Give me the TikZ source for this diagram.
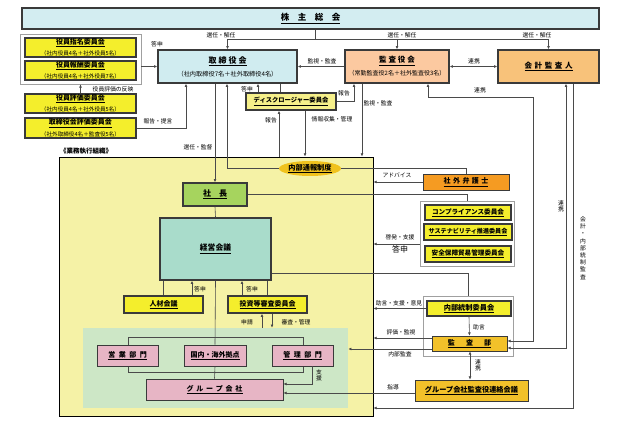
\documentclass[tikz,border=0pt]{standalone}
\usepackage{fontspec}
\setmainfont{Noto Sans CJK JP}
\usetikzlibrary{arrows.meta,shapes.geometric}
\definecolor{cKabu}{HTML}{D3EDF1}
\definecolor{cTori}{HTML}{D0ECF0}
\definecolor{cKansa}{HTML}{FCC9A0}
\definecolor{cKaikei}{HTML}{F8C27A}
\definecolor{cYel}{HTML}{F4EE2C}
\definecolor{cDisc}{HTML}{F6F08A}
\definecolor{cExec}{HTML}{F5F2A6}
\definecolor{cShacho}{HTML}{A6D45E}
\definecolor{cKeiei}{HTML}{A9DCCB}
\definecolor{cGreen}{HTML}{CDE7C6}
\definecolor{cPink}{HTML}{E7B5C5}
\definecolor{cNaibu}{HTML}{F0C21E}
\definecolor{cBengo}{HTML}{F59B22}
\definecolor{cKansabu}{HTML}{F2C12A}
\definecolor{cLine}{HTML}{4A4A4A}
\definecolor{cBorder}{HTML}{3A3A3A}
\definecolor{cGrey}{HTML}{A0A0A0}
\newcommand\myfs[1]{\fontsize{#1}{#1}\selectfont}
\newcommand\ttl[1]{\underline{{\bfseries #1}}}
\begin{document}
\begin{tikzpicture}[x=1pt,y=-1pt,
  ln/.style={draw=cLine,line width=0.6pt},
  arr/.style={ln,-{Latex[length=3.2pt,width=2.8pt]}},
  darr/.style={ln,{Latex[length=3.2pt,width=2.8pt]}-{Latex[length=3.2pt,width=2.8pt]}},
  lbl/.style={inner sep=0.5pt,font=\myfs{5.8}},
  thickbox/.style={draw=cBorder,line width=1.4pt,inner sep=0pt,align=center},
  thinbox/.style={draw=cBorder,line width=0.7pt,inner sep=0pt,align=center},
  ybox/.style={thickbox,fill=cYel},
  grpbox/.style={draw=cGrey,line width=0.7pt,fill=white,inner sep=0pt},
  pinkbox/.style={thinbox,fill=cPink,minimum width=61pt,minimum height=21pt,font=\myfs{7}}
]
\useasboundingbox (0,0) rectangle (624,427);
\fill[white] (0,0) rectangle (624,427);

% ---- top level ----
\node[thickbox,fill=cKabu,minimum width=577pt,minimum height=21pt] (kabu) at (310.5,18.5)
  {\myfs{8.5}\ttl{株\hspace{1em}主\hspace{1em}総\hspace{1em}会}};

\node[grpbox,minimum width=121pt,minimum height=50pt] (grpL) at (80.5,59) {};
\node[ybox,minimum width=111pt,minimum height=19pt] (shimei) at (80.5,47.5)
  {\myfs{7}\ttl{役員指名委員会}\\[-0.5pt]\myfs{5.6}（社内役員4名＋社外役員5名）};
\node[ybox,minimum width=111pt,minimum height=19pt] (hoshu) at (80.5,70.5)
  {\myfs{7}\ttl{役員報酬委員会}\\[-0.5pt]\myfs{5.6}（社内役員4名＋社外役員7名）};
\node[ybox,minimum width=111pt,minimum height=19pt] (hyoka) at (80.5,103.5)
  {\myfs{7}\ttl{役員評価委員会}\\[-0.5pt]\myfs{5.6}（社内役員4名＋社外役員5名）};
\node[ybox,minimum width=111pt,minimum height=20pt] (trhyoka) at (80.5,128)
  {\myfs{7}\ttl{取締役会評価委員会}\\[-0.5pt]\myfs{5.6}（社外取締役4名＋監査役5名）};

\node[thickbox,fill=cTori,minimum width=139pt,minimum height=33pt] (tori) at (227.5,66.5)
  {\myfs{8}\ttl{取\hspace{0.25em}締\hspace{0.25em}役\hspace{0.25em}会}\\[1pt]\myfs{6.2}（社内取締役7名＋社外取締役4名）};
\node[thickbox,fill=cKansa,minimum width=104pt,minimum height=33pt] (kansa) at (397,66.5)
  {\myfs{7.5}\ttl{監\hspace{0.25em}査\hspace{0.25em}役\hspace{0.25em}会}\\[1pt]\myfs{6}（常勤監査役2名＋社外監査役3名）};
\node[thickbox,fill=cKaikei,minimum width=101pt,minimum height=33pt] (kaikei) at (548.5,66.5)
  {\myfs{7.5}\ttl{会\hspace{0.35em}計\hspace{0.35em}監\hspace{0.35em}査\hspace{0.35em}人}};

\node[thickbox,fill=cDisc,minimum width=90pt,minimum height=17pt] (disc) at (291,101.5)
  {\myfs{6.3}\ttl{ディスクロージャー委員会}};

% ---- execution organisation ----
\node[draw=black,line width=0.8pt,fill=cExec,minimum width=314pt,minimum height=259pt,inner sep=0pt] (exec) at (216,286.5) {};
\node[inner sep=0pt,font=\myfs{6.5}\bfseries,anchor=west] (execlbl) at (60,151) {《業務執行組織》};

\node[ellipse,fill=cNaibu,minimum width=62pt,minimum height=15pt,inner sep=0pt] (naibu) at (310,168.5)
  {\myfs{7.2}\ttl{内部通報制度}};
\node[thinbox,fill=cBengo,minimum width=86pt,minimum height=16pt] (bengo) at (466,182)
  {\myfs{7}\ttl{社\hspace{0.35em}外\hspace{0.35em}弁\hspace{0.35em}護\hspace{0.35em}士}};

\node[thickbox,fill=cShacho,minimum width=64pt,minimum height=23pt] (shacho) at (215,194.5)
  {\myfs{8}\ttl{社\hspace{1em}長}};
\node[thickbox,fill=cKeiei,minimum width=111pt,minimum height=62pt] (keiei) at (215.5,249)
  {\myfs{7.8}\ttl{経営会議}};

\node[grpbox,minimum width=94pt,minimum height=65pt] (grpC) at (467,233.5) {};
\node[ybox,minimum width=86pt,minimum height=15pt] (comp) at (468,212.5)
  {\myfs{6.6}\ttl{コンプライアンス委員会}};
\node[ybox,minimum width=88pt,minimum height=16pt] (sust) at (468,232)
  {\myfs{6.1}\ttl{サステナビリティ推進委員会}};
\node[ybox,minimum width=86pt,minimum height=16pt] (anzen) at (468,254)
  {\myfs{6.6}\ttl{安全保障貿易管理委員会}};

\node[ybox,minimum width=79pt,minimum height=17pt] (jinzai) at (163.5,304.5)
  {\myfs{7}\ttl{人材会議}};
\node[ybox,minimum width=79pt,minimum height=17pt] (toshi) at (267.5,304.5)
  {\myfs{7}\ttl{投資等審査委員会}};

\node[fill=cGreen,minimum width=265pt,minimum height=80pt,inner sep=0pt] (green) at (215.5,368) {};
\node[ln,minimum width=175pt,minimum height=35pt,inner sep=0pt] (frame) at (215.5,354.5) {};
\node[pinkbox] (eigyo) at (127.5,355.5) {\ttl{営\hspace{0.5em}業\hspace{0.5em}部\hspace{0.5em}門}};
\node[pinkbox,minimum width=62pt] (kokunai) at (215,355.5) {\ttl{国内・海外拠点}};
\node[pinkbox] (kanri) at (302.5,355.5) {\ttl{管\hspace{0.5em}理\hspace{0.5em}部\hspace{0.5em}門}};
\node[pinkbox,minimum width=137pt] (group) at (214.5,389.5)
  {\ttl{グ\hspace{0.4em}ル\hspace{0.4em}ー\hspace{0.4em}プ\hspace{0.4em}会\hspace{0.4em}社}};

\node[grpbox,minimum width=90pt,minimum height=60pt] (grpI) at (468,326) {};
\node[ybox,minimum width=84pt,minimum height=15pt] (naitou) at (469,308.5)
  {\myfs{7.2}\ttl{内部統制委員会}};
\node[thinbox,fill=cKansabu,minimum width=75pt,minimum height=15pt] (kansabu) at (469.5,343.5)
  {\myfs{7}\ttl{監\hspace{1.6em}査\hspace{1.6em}部}};
\node[thinbox,fill=cKansabu,minimum width=113pt,minimum height=21pt] (gkaigi) at (471.5,390.5)
  {\myfs{7.2}\ttl{グループ会社監査役連絡会議}};

% ---- connectors: shareholders ----
\coordinate (sh) at (315,39);
\draw[ln] (kabu.south -| sh) -- (sh);
\draw[ln] (tori.north |- sh) -- (kaikei.north |- sh);
\draw[arr] (tori.north |- sh) -- (tori.north);
\draw[arr] (kansa.north |- sh) -- (kansa.north);
\draw[arr] (kaikei.north |- sh) -- (kaikei.north);
\node[lbl] (l1) at (221,35) {選任・解任};
\node[lbl] (l2) at (402,35) {選任・解任};
\node[lbl] (l3) at (537,35) {選任・解任};

% left committees
\draw[arr] (grpL.east |- tori.west) -- (tori.west);
\node[lbl] (l4) at (157,44) {答申};
\draw[arr] (hyoka.north) -- (grpL.south);
\node[lbl] (l5) at (113,89) {役員評価の反映};
\draw[arr] (trhyoka.east) -- (trhyoka.east -| 186,0) -- (tori.south -| 186,0);
\node[lbl] (l6) at (158,121) {報告・提言};

% board / auditors
\draw[arr] (kansa.west) -- (tori.east);
\node[lbl] (l7) at (322,61) {監視・監査};
\draw[darr] (kansa.east) -- (kaikei.west);
\node[lbl] (l8) at (474,61) {連携};

% disclosure committee
\draw[arr] (disc.north -| 258,0) -- (tori.south -| 258,0);
\node[lbl] (l9) at (247,89) {答申};
\draw[ln] (tori.south -| 280,0) -- (disc.north -| 280,0);
\draw[arr] (disc.east) -- (disc.east -| 354,0) -- (kansa.south -| 354,0);
\node[lbl] (l10) at (344,93) {報告};
\draw[arr] (exec.north -| 279,0) -- (disc.south -| 279,0);
\node[lbl] (l11) at (271,120) {報告};
\draw[arr] (disc.south -| 305,0) -- (exec.north -| 305,0);
\node[lbl] (l12) at (332,119) {情報収集・管理};
\draw[arr] (kansa.south -| 362,0) -- (exec.north -| 362,0);
\node[lbl] (l13) at (378,103) {監視・監査};

% board -> president, whistleblowing
\draw[arr] (tori.south -| shacho.north) -- (shacho.north);
\node[lbl] (l14) at (198,147) {選任・監督};
\coordinate (nb) at (227,168.5);
\draw[arr] (nb) -- (tori.south -| nb);
\draw[ln] (nb) -- (naibu.west);
\draw[ln] (naibu.east) -- (naibu.east -| bengo.north) -- (bengo.north);
\draw[arr] (bengo.west) -- (bengo.west -| exec.east);
\node[lbl] (l15) at (397,175) {アドバイス};

% president / management
\draw[ln] (shacho.east) -- (shacho.east -| grpC.north) -- (grpC.north);
\draw[arr] (grpC.west |- 0,244) -- (exec.east |- 0,244);
\node[lbl] (l16) at (400,237) {啓発・支援};
\node[inner sep=0.5pt,font=\myfs{8}] (l17) at (400,249.5) {答申};
\draw[ln] (shacho.south) -- (keiei.north);
\draw[ln] (keiei.east |- 0,273) -- (grpI.north |- 0,273) -- (grpI.north);

\draw[ln] (keiei.south -| 163,0) -- (jinzai.north -| 163,0);
\draw[arr] (jinzai.north -| 192,0) -- (keiei.south -| 192,0);
\node[lbl] (l18) at (200,289) {答申};
\draw[ln] (keiei.south -| 267,0) -- (toshi.north -| 267,0);
\draw[arr] (toshi.north -| 242,0) -- (keiei.south -| 242,0);
\node[lbl] (l19) at (252,289) {答申};
\draw[arr] (green.north -| 262,0) -- (toshi.south -| 262,0);
\draw[arr] (toshi.south -| 272,0) -- (green.north -| 272,0);
\node[lbl] (l20) at (247,322) {申請};
\node[lbl] (l21) at (296,322) {審査・管理};

\draw[ln] (keiei.south) -- (kokunai.north);
\draw[ln] (kokunai.south) -- (group.north);
\draw[arr] (kanri.south -| 312,0) -- (312,384) -- (group.east |- 0,384);
\node[lbl,align=center] (l22) at (319,375) {支\\援};

% internal control
\draw[arr] (naitou.west) -- (naitou.west -| exec.east);
\node[lbl] (l23) at (399,303) {助言・支援・意見};
\draw[arr] (naitou.south) -- (kansabu.north);
\node[lbl] (l24) at (479,327) {助言};
\draw[arr] (kansabu.west |- 0,338) -- (exec.east |- 0,338);
\node[lbl] (l25) at (401,332) {評価・監視};
\draw[arr] (kansabu.west |- 0,349) -- (green.east |- 0,349);
\node[lbl] (l26) at (400,354) {内部監査};
\draw[darr] (kansabu.south -| 470,0) -- (gkaigi.north -| 470,0);
\node[lbl,align=center] (l27) at (478,365) {連\\携};
\draw[arr] (gkaigi.west |- 0,393) -- (group.east |- 0,393);
\node[lbl] (l28) at (393,387) {指導};

% long right-side links
\draw[darr] (kansa.south -| 428,0) -- (428,97) -- (533,97) -- (533,341) -- (kansabu.east |- 0,341);
\node[lbl] (l29) at (480,90) {連携};
\draw[darr] (kaikei.south -| 566,0) -- (566,348) -- (kansabu.east |- 0,348);
\node[lbl,align=center] (l30) at (561,206) {連\\携};
\draw[arr] (kaikei.south -| 573,0) -- (573,408) -- (exec.east |- 0,408);
\node[lbl,align=center,font={\fontsize{5.8}{7.2}\selectfont}] (l31) at (583,248)
  {会\\計\\・\\内\\部\\統\\制\\監\\査};
\end{tikzpicture}
\end{document}
